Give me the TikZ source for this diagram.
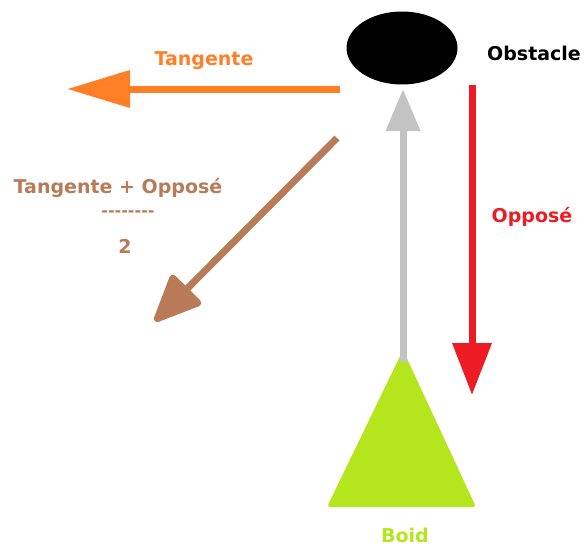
\documentclass[tikz,border=0pt]{standalone}
\usepackage{fontspec}
\newfontfamily\lbl{DejaVu Sans}
\usetikzlibrary{arrows.meta,shapes.geometric}
\definecolor{corange}{HTML}{FF7F27}
\definecolor{cgray}{HTML}{C3C3C3}
\definecolor{cred}{HTML}{ED1C24}
\definecolor{cbrown}{HTML}{B97A57}
\definecolor{cgreen}{HTML}{B5E61D}
\begin{document}
\begin{tikzpicture}[x=1pt,y=-1pt,
  txt/.style={font=\lbl\bfseries\fontsize{19}{22}\selectfont, inner sep=0pt},
  vec/.style={line width=7pt},
]
\useasboundingbox (0,0) rectangle (585,547);
% obstacle
\node[ellipse, fill=black, minimum width=111pt, minimum height=73pt, inner sep=0pt] (obs) at (402,48) {};
\node[txt, text=black] (obslbl) at (534,53) {Obstacle};
% boid
\coordinate (apex) at (403,350);
\coordinate (bl) at (327,507);
\coordinate (br) at (476,507);
\fill[cgreen, rounded corners=3pt] (apex) -- (br) -- (bl) -- cycle;
\node[txt, text=cgreen] (boidlbl) at (405,535) {Boid};
% coordinates of vector ends
\coordinate (tanS) at (340,89);
\coordinate (tanE) at (67,89);
\coordinate (oppS) at (472,85);
\coordinate (oppE) at (472,395);
\coordinate (avgS) at (337,138);
\coordinate (avgE) at (155,321);
\coordinate (grayS) at (403,362);
\coordinate (grayE) at (403,89);
% vectors
\draw[vec, corange, -{Triangle[length=63pt,width=36pt]}] (tanS) -- (tanE);
\draw[vec, cred, -{Triangle[length=52pt,width=38pt]}] (oppS) -- (oppE);
\draw[vec, cbrown, -{Triangle[length=52pt,width=44pt,round]}] (avgS) -- (avgE);
\draw[vec, cgray, -{Triangle[length=42pt,width=33pt]}] (grayS) -- (grayE);
% labels
\node[txt, text=corange] (tanlbl) at (204,61) {Tangente};
\node[txt, text=cred] (opplbl) at (532,217) {Opposé};
\node[txt, text=cbrown] (avglbl) at (118,188) {Tangente + Opposé};
\node[txt, text=cbrown, font=\lbl\bfseries\fontsize{16}{18}\selectfont] (avgbar) at (128,214) {-{}-{}-{}-{}-{}-{}-{}-};
\node[txt, text=cbrown] (avgtwo) at (125,246) {2};
\end{tikzpicture}
\end{document}
